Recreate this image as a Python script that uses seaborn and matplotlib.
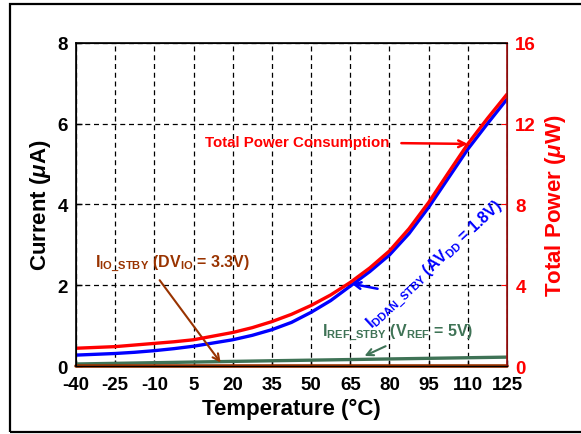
import numpy as np
import pandas as pd
import matplotlib
matplotlib.use('Agg')
import matplotlib.pyplot as plt
import seaborn as sns
from matplotlib.patches import Rectangle

# Values
temps = [-40, -32.5, -25, -17.5, -10, -2.5, 5, 12.5, 20, 27.5, 35, 42.5,
         50, 57.5, 65, 72.5, 80, 87.5, 95, 102.5, 110, 117.5, 125]
i_ddan = [0.27, 0.29, 0.31, 0.34, 0.38, 0.43, 0.49, 0.57, 0.65, 0.76, 0.90, 1.08,
          1.33, 1.62, 1.98, 2.34, 2.75, 3.28, 3.93, 4.65, 5.37, 6.0, 6.61]
total_power = [0.88, 0.92, 0.96, 1.04, 1.12, 1.20, 1.30, 1.48, 1.66, 1.90, 2.20, 2.56,
               3.00, 3.52, 4.14, 4.86, 5.70, 6.80, 8.10, 9.56, 11.0, 12.26, 13.46]
ref_temps = [-40, 35, 65, 125]
i_ref = [0.05, 0.13, 0.16, 0.22]
io_temps = [-40, 125]
i_io = [0.01, 0.01]

x_ticks = [-40, -25, -10, 5, 20, 35, 50, 65, 80, 95, 110, 125]
y_ticks = [0, 2, 4, 6, 8]
y2_ticks = [0, 4, 8, 12, 16]

df = pd.DataFrame({'Temp': temps, 'IDDAN': i_ddan, 'Power': total_power})
df_ref = pd.DataFrame({'Temp': ref_temps, 'IREF': i_ref})
df_io = pd.DataFrame({'Temp': io_temps, 'IIO': i_io})

sns.set_style('ticks')
plt.rcParams['font.family'] = ['Liberation Sans', 'DejaVu Sans']
plt.rcParams['font.weight'] = 'bold'
plt.rcParams['axes.unicode_minus'] = False
plt.rcParams['mathtext.fontset'] = 'custom'
plt.rcParams['mathtext.rm'] = 'Liberation Sans:bold'
plt.rcParams['mathtext.bf'] = 'Liberation Sans:bold'
plt.rcParams['mathtext.it'] = 'Liberation Sans:italic'
for k in ['text.color', 'axes.labelcolor', 'xtick.color', 'ytick.color', 'axes.edgecolor']:
    plt.rcParams[k] = 'black'

red = '#ff0000'
blue = '#0000ff'
green = '#3f7356'
brown = '#993300'

fig = plt.figure(figsize=(5.81, 4.35), dpi=100)
fig.patches.append(Rectangle((10 / 581, 2 / 435), 1.2, 1 - 7 / 435,
                             transform=fig.transFigure, fill=False,
                             edgecolor='black', linewidth=1.6))
ax = fig.add_axes([0.1308, 0.1563, 0.7418, 0.7426])

sns.lineplot(data=df_ref, x='Temp', y='IREF', ax=ax, color=green, linewidth=2.4)
sns.lineplot(data=df, x='Temp', y='IDDAN', ax=ax, color=blue, linewidth=2.4)
sns.lineplot(data=df_io, x='Temp', y='IIO', ax=ax, color=brown, linewidth=2.6,
             clip_on=False)

ax.set_xlim(-40, 125)
ax.set_ylim(0, 8)
ax.set_xticks(x_ticks)
ax.set_yticks(y_ticks)
ax.tick_params(axis='both', direction='in', length=4, labelsize=13.5, width=1)
ax.tick_params(axis='x', pad=7)
ax.tick_params(axis='y', pad=6)
ax.grid(True, color='black', linestyle=(0, (4, 3)), linewidth=0.9)
ax.set_xlabel('Temperature (°C)', fontsize=16, fontweight='bold', labelpad=4)
ax.set_ylabel(r'Current ($\mu$A)', fontsize=16, fontweight='bold', labelpad=3)
for s in ['left', 'top']:
    ax.spines[s].set_linewidth(1.2)

ax2 = ax.twinx()
sns.lineplot(data=df, x='Temp', y='Power', ax=ax2, color=red, linewidth=2.4)
ax2.set_ylim(0, 16)
ax2.set_yticks(y2_ticks)
ax2.tick_params(direction='in', length=4, labelsize=13.5, colors=red, pad=6)
ax2.spines['right'].set_color('#a01010')
ax2.spines['right'].set_linewidth(1.2)
ax2.set_ylabel(r'Total Power ($\mu$W)', fontsize=16, fontweight='bold',
               color=red, labelpad=5)
ax2.set_xlim(-40, 125)

# annotations
ax.text(44.6, 5.54, 'Total Power Consumption', color=red, fontsize=10.8,
        fontweight='bold', ha='center', va='center')
ax.annotate('', xy=(111, 5.5), xytext=(83.5, 5.52),
            arrowprops=dict(arrowstyle='->', color=red, lw=1.8,
                            mutation_scale=12))

ax.text(-32.8, 2.55, r'I$_{\rm IO\_STBY}$ (DV$_{\rm IO}$ = 3.3V)', color=brown,
        fontsize=11.5, fontweight='bold', ha='left', va='center')
ax.annotate('', xy=(16, 0.03), xytext=(-8.6, 2.18),
            arrowprops=dict(arrowstyle='->', color=brown, lw=1.5,
                            mutation_scale=12))

ax.text(54.2, 0.84, r'I$_{\rm REF\_STBY}$ (V$_{\rm REF}$ = 5V)', color=green,
        fontsize=11.5, fontweight='bold', ha='left', va='center')
ax.annotate('', xy=(69.5, 0.22), xytext=(79.5, 0.52),
            arrowprops=dict(arrowstyle='->', color=green, lw=1.5,
                            mutation_scale=12))

ax.text(97.5, 2.5, r'I$_{\rm DDAN\_STBY}$ (AV$_{\rm DD}$ = 1.8V)', color=blue,
        fontsize=11.5, fontweight='bold', ha='center', va='center', rotation=43,
        rotation_mode='anchor')
ax.annotate('', xy=(64.5, 2.05), xytext=(76.5, 1.9),
            arrowprops=dict(arrowstyle='->', color=blue, lw=1.8,
                            mutation_scale=12))

fig.savefig('out.png', dpi=100)
